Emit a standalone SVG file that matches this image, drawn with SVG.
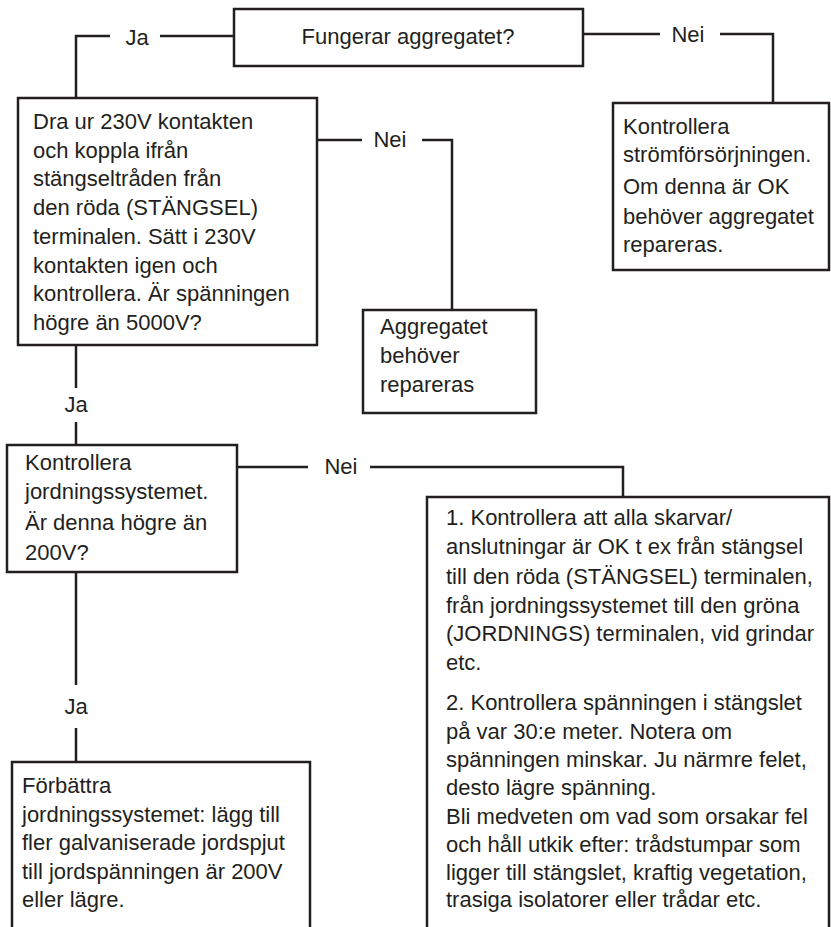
<svg xmlns="http://www.w3.org/2000/svg" width="831" height="927" viewBox="0 0 831 927">
<style>
.box{fill:#fff;stroke:#231f20;stroke-width:2.5}
.ln{fill:none;stroke:#231f20;stroke-width:2.5}
text{font-family:"Liberation Sans",Arial,sans-serif;font-size:22px;fill:#231f20}
.c{text-anchor:middle}
</style>
<rect width="831" height="927" fill="#fff"/>
<g id="connectors">
<polyline class="ln" points="110,36 76,36 76,98"/>
<line class="ln" x1="160" y1="36" x2="234" y2="36"/>
<line class="ln" x1="583" y1="34" x2="660" y2="34"/>
<polyline class="ln" points="720,34 773,34 773,103"/>
<line class="ln" x1="317" y1="140" x2="362" y2="140"/>
<polyline class="ln" points="422,140 452,140 452,310"/>
<line class="ln" x1="76" y1="345" x2="76" y2="388"/>
<line class="ln" x1="76" y1="422" x2="76" y2="445"/>
<line class="ln" x1="237" y1="467" x2="308" y2="467"/>
<polyline class="ln" points="370,467 623,467 623,497"/>
<line class="ln" x1="76" y1="572" x2="76" y2="685"/>
<line class="ln" x1="76" y1="728" x2="76" y2="762"/>
<text class="c" x="137" y="45">Ja</text>
<text class="c" x="688" y="42">Nei</text>
<text class="c" x="390" y="147">Nei</text>
<text class="c" x="76" y="412">Ja</text>
<text class="c" x="341" y="474">Nei</text>
<text class="c" x="76" y="714">Ja</text>
</g>
<g id="n1">
<rect class="box" x="234" y="9" width="349" height="57"/>
<text class="c" x="408" y="44">Fungerar aggregatet?</text>
</g>
<g id="n2">
<rect class="box" x="18" y="98" width="299" height="247"/>
<text x="33" y="129">Dra ur 230V kontakten</text>
<text x="33" y="158">och koppla ifrån</text>
<text x="33" y="186">stängseltråden från</text>
<text x="33" y="215">den röda (STÄNGSEL)</text>
<text x="33" y="244">terminalen. Sätt i 230V</text>
<text x="33" y="273">kontakten igen och</text>
<text x="33" y="301">kontrollera. Är spänningen</text>
<text x="33" y="330">högre än 5000V?</text>
</g>
<g id="n3">
<rect class="box" x="613" y="103" width="216" height="167"/>
<text x="623" y="134">Kontrollera</text>
<text x="623" y="162">strömförsörjningen.</text>
<text x="623" y="194">Om denna är OK</text>
<text x="623" y="224">behöver aggregatet</text>
<text x="623" y="252">repareras.</text>
</g>
<g id="n4">
<rect class="box" x="363" y="310" width="173" height="103"/>
<text x="380" y="334">Aggregatet</text>
<text x="380" y="363">behöver</text>
<text x="380" y="392">repareras</text>
</g>
<g id="n5">
<rect class="box" x="7" y="445" width="230" height="127"/>
<text x="25" y="470">Kontrollera</text>
<text x="25" y="499">jordningssystemet.</text>
<text x="25" y="530">Är denna högre än</text>
<text x="25" y="560">200V?</text>
</g>
<g id="n6">
<rect class="box" x="427" y="497" width="402" height="450"/>
<text x="446" y="525">1. Kontrollera att alla skarvar/</text>
<text x="446" y="554">anslutningar är OK t ex från stängsel</text>
<text x="446" y="584">till den röda (STÄNGSEL) terminalen,</text>
<text x="446" y="613">från jordningssystemet till den gröna</text>
<text x="446" y="641">(JORDNINGS) terminalen, vid grindar</text>
<text x="446" y="670">etc.</text>
<text x="446" y="710">2. Kontrollera spänningen i stängslet</text>
<text x="446" y="739">på var 30:e meter. Notera om</text>
<text x="446" y="767">spänningen minskar. Ju närmre felet,</text>
<text x="446" y="795">desto lägre spänning.</text>
<text x="446" y="824">Bli medveten om vad som orsakar fel</text>
<text x="446" y="852">och håll utkik efter: trådstumpar som</text>
<text x="446" y="880">ligger till stängslet, kraftig vegetation,</text>
<text x="446" y="907">trasiga isolatorer eller trådar etc.</text>
</g>
<g id="n7">
<rect class="box" x="12" y="762" width="298" height="185"/>
<text x="22" y="793">Förbättra</text>
<text x="22" y="822">jordningssystemet: lägg till</text>
<text x="22" y="850">fler galvaniserade jordspjut</text>
<text x="22" y="879">till jordspänningen är 200V</text>
<text x="22" y="907">eller lägre.</text>
</g>
</svg>
